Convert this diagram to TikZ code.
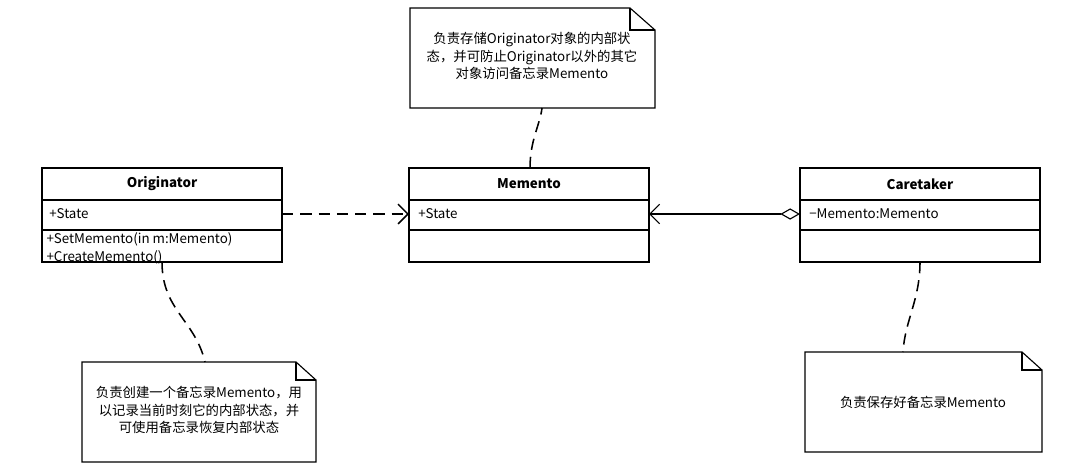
\documentclass[tikz,border=0pt]{standalone}
\usepackage{fontspec}
\setmainfont{Noto Sans CJK SC}
\usetikzlibrary{arrows.meta,positioning}
\begin{document}
\begin{tikzpicture}[x=0.025cm,y=-0.025cm,line width=0.8pt,font=\fontsize{9.5}{12.5}\selectfont,
  box/.style={draw,fill=white},
  note/.style={draw,fill=white},
  tie/.style={line width=1.1pt,dash pattern=on 8pt off 5pt}]
\useasboundingbox (0,0) rectangle (1080,468);
% classes
\foreach \nm/\x/\ttl in {orig/42/Originator,mem/409/Memento,care/800/Caretaker}{
  \draw (\x,168) rectangle ++(240,94);
  \draw (\x,200) -- ++(240,0);
  \draw (\x,230) -- ++(240,0);
  \node[font=\fontsize{9.5}{12.5}\selectfont\bfseries] (\nm) at (\x+120,184) {\ttl};
  \coordinate (\nm-l) at (\x,214);
  \coordinate (\nm-r) at (\x+240,214);
}
\node[anchor=west] at (44,214) {+State};
\node[anchor=north west,align=left,inner sep=0pt] at (46,232) {+SetMemento(in m:Memento)\\+CreateMemento()};
\node[anchor=west] at (413,214) {+State};
\node[anchor=west] at (804,214) {\textminus Memento:Memento};
% notes
\draw (410,8) -- (630,8) -- (655,30) -- (655,108) -- (410,108) -- cycle;
\draw (630,8) -- (630,30) -- (655,30);
\node[align=center] (ntop) at (532,56) {负责存储Originator对象的内部状\\态，并可防止Originator以外的其它\\对象访问备忘录Memento};
\draw (82,362) -- (296,362) -- (316,380) -- (316,462) -- (82,462) -- cycle;
\draw (296,362) -- (296,380) -- (316,380);
\node[align=center] (nleft) at (199,410) {负责创建一个备忘录Memento，用\\以记录当前时刻它的内部状态，并\\可使用备忘录恢复内部状态};
\draw (805,352) -- (1022,352) -- (1042,370) -- (1042,452) -- (805,452) -- cycle;
\draw (1022,352) -- (1022,370) -- (1042,370);
\node (nright) at (923,402) {负责保存好备忘录Memento};
% ties
\draw[tie] (162,262) .. controls (162,310) and (195,320) .. (205,362);
\draw[tie] (530,168) .. controls (530,140) and (540,125) .. (542,108);
\draw[tie] (920,262) .. controls (920,300) and (905,320) .. (903,352);
% relations
\draw[tie,-{Straight Barb[length=7pt,width=14pt]}] (orig-r) -- (mem-l);
\draw[{Diamond[open,length=14pt,width=8pt]}-{Straight Barb[length=7pt,width=14pt]}] (care-l) -- (mem-r);
\end{tikzpicture}
\end{document}
